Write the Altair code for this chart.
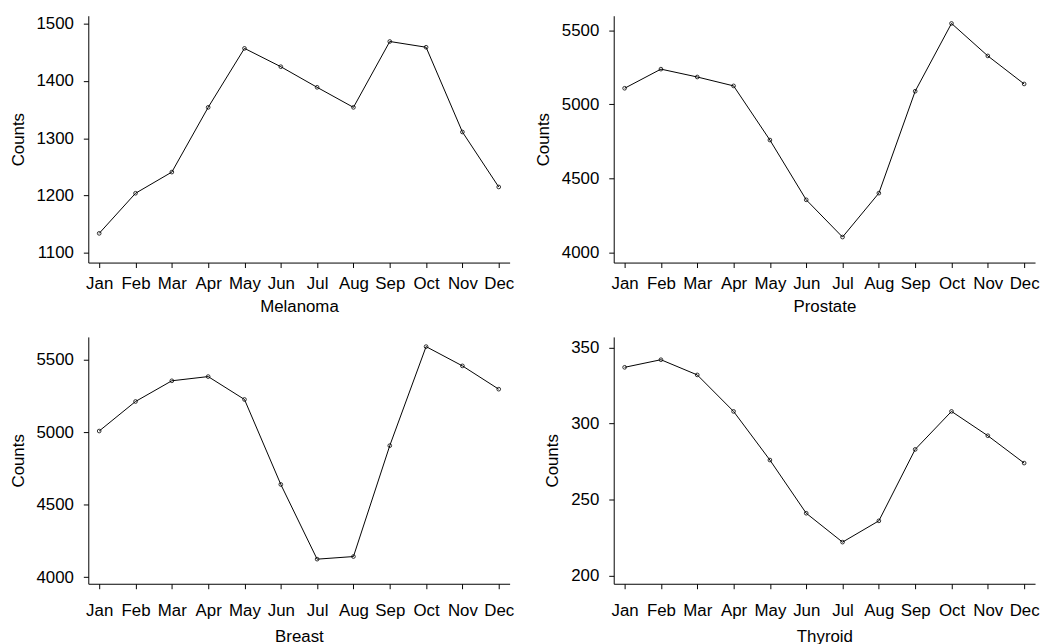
import altair as alt
import pandas as pd

months = ["Jan", "Feb", "Mar", "Apr", "May", "Jun", "Jul", "Aug", "Sep", "Oct", "Nov", "Dec"]

melanoma = [1134, 1204, 1241, 1354, 1457, 1425, 1389, 1354, 1469, 1459, 1311, 1215]
prostate = [5108, 5237, 5184, 5124, 4759, 4356, 4105, 4401, 5088, 5545, 5326, 5137]
breast = [5009, 5213, 5356, 5385, 5227, 4640, 4124, 4142, 4908, 5592, 5459, 5298]
thyroid = [337, 342, 332, 308, 276, 241, 222, 236, 283, 308, 292, 274]

FONT = "Liberation Sans"


def panel(vals, name, domain, ticks, lab_pad, title_pad):
    df = pd.DataFrame({"month": months, "count": vals})
    base = alt.Chart(df).encode(
        x=alt.X(
            "month:N",
            sort=months,
            scale=alt.Scale(type="point", padding=0.3),
            axis=alt.Axis(
                title=name,
                labelAngle=0,
                tickSize=5,
                labelPadding=lab_pad,
                titlePadding=title_pad,
            ),
        ),
        y=alt.Y(
            "count:Q",
            scale=alt.Scale(domain=domain, nice=False, zero=False),
            axis=alt.Axis(
                title="Counts",
                values=ticks,
                format="d",
                tickSize=5,
                labelPadding=10,
                titlePadding=9,
                grid=False,
            ),
        ),
    )
    line = base.mark_line(color="black", strokeWidth=1)
    pts = base.mark_point(shape="circle", filled=False, size=14, color="black", strokeWidth=0.8, opacity=1)
    return (line + pts).properties(width=425, height=249)


p1 = panel(melanoma, "Melanoma", [1083, 1514], [1100, 1200, 1300, 1400, 1500], 8.5, 7)
p2 = panel(prostate, "Prostate", [3933, 5597], [4000, 4500, 5000, 5500], 8.5, 7)
p3 = panel(breast, "Breast", [3954, 5659], [4000, 4500, 5000, 5500], 14.5, 10)
p4 = panel(thyroid, "Thyroid", [194.6, 357], [200, 250, 300, 350], 14.5, 10)

chart = alt.ConcatChart(
    concat=[p1, p2, p3, p4],
    columns=2,
    spacing=alt.RowColnumber(row=75, column=105),
    bounds="flush",
    padding={"left": 1, "top": 4, "right": 0, "bottom": 0},
).configure_view(stroke=None).configure_axis(
    labelFont=FONT,
    titleFont=FONT,
    labelFontSize=17,
    titleFontSize=17,
    labelColor="black",
    titleColor="black",
    titleFontWeight="normal",
    domainColor="black",
    tickColor="black",
    domainWidth=1,
    tickWidth=1,
    grid=False,
    labelOverlap=False,
)

chart.save("out.html", embed_options={"renderer": "svg", "actions": False})
